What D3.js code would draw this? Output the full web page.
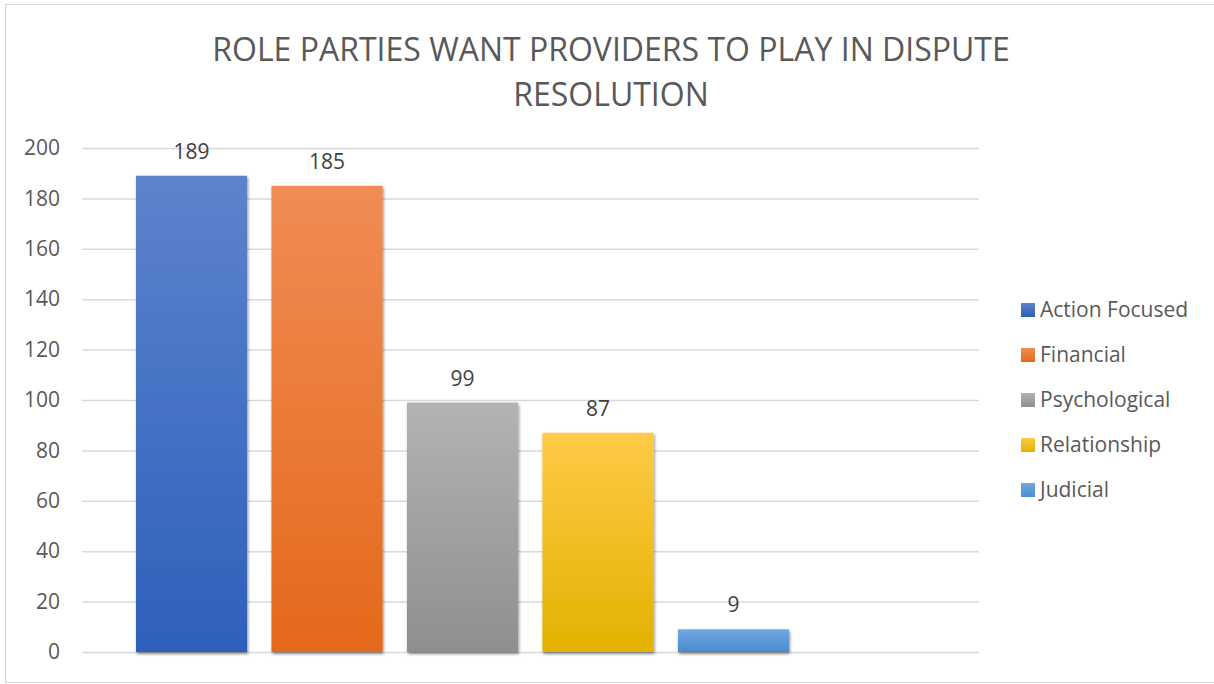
<!DOCTYPE html>
<html>
<head>
<meta charset="utf-8">
<script src="https://cdn.jsdelivr.net/npm/d3@7"></script>
<style>
  body { margin: 0; background: #fff; }
  text { font-family: "Open Sans", "Noto Sans", sans-serif; }
</style>
</head>
<body>
<div id="chart"></div>
<script>
// data
const categories = ['Action Focused', 'Financial', 'Psychological', 'Relationship', 'Judicial'];
const values = [189, 185, 99, 87, 9];
const yTicks = [0, 20, 40, 60, 80, 100, 120, 140, 160, 180, 200];
const titleLines = ['ROLE PARTIES WANT PROVIDERS TO PLAY IN DISPUTE', 'RESOLUTION'];
// top / bottom gradient stops for each series
const colorsTop = ['#5d83cc', '#f18c55', '#b3b3b3', '#ffca47', '#70a8e0'];
const colorsBottom = ['#2d60bb', '#e4691a', '#8f8f8f', '#e3b200', '#4a8cd0'];

const width = 1214, height = 684;
const margin = { top: 148, bottom: 32, left: 82, right: 235 };
const plotBottom = height - margin.bottom;

const svg = d3.select('#chart').append('svg')
  .attr('width', width)
  .attr('height', height);

const defs = svg.append('defs');
categories.forEach((c, i) => {
  const g = defs.append('linearGradient')
    .attr('id', 'grad' + i)
    .attr('x1', 0).attr('y1', 0).attr('x2', 0).attr('y2', 1);
  g.append('stop').attr('offset', '0%').attr('stop-color', colorsTop[i]);
  g.append('stop').attr('offset', '100%').attr('stop-color', colorsBottom[i]);
});
const shadow = defs.append('filter').attr('id', 'shadow')
  .attr('x', '-10%').attr('y', '-10%').attr('width', '130%').attr('height', '130%');
shadow.append('feDropShadow')
  .attr('dx', 1).attr('dy', 2).attr('stdDeviation', 1.5)
  .attr('flood-color', '#000').attr('flood-opacity', 0.45);

// chart border
svg.append('rect')
  .attr('x', 5.5).attr('y', 4.5)
  .attr('width', width + 10).attr('height', 678)
  .attr('fill', 'none').attr('stroke', '#d9d9d9').attr('stroke-width', 1.2);

// title
svg.append('text')
  .attr('x', 611).attr('y', 61)
  .attr('text-anchor', 'middle')
  .style('font-size', '32px')
  .style('fill', '#595959')
  .selectAll('tspan')
  .data(titleLines)
  .join('tspan')
  .attr('x', 611)
  .attr('dy', (d, i) => i === 0 ? 0 : 45)
  .text(d => d);

// scales
const yScale = d3.scaleLinear().domain([0, 200]).range([plotBottom, margin.top]);
const xScale = d3.scaleBand().domain(categories).range([136, 789])
  .paddingInner(0.18).paddingOuter(0);

// gridlines
svg.append('g')
  .attr('class', 'grid')
  .selectAll('line')
  .data(yTicks)
  .join('line')
  .attr('x1', margin.left)
  .attr('x2', width - margin.right)
  .attr('y1', d => yScale(d) + 0.5)
  .attr('y2', d => yScale(d) + 0.5)
  .attr('stroke', '#d9d9d9')
  .attr('stroke-width', 1.5);

// y axis
const yAxis = svg.append('g')
  .attr('class', 'axis axis-y')
  .attr('transform', `translate(${margin.left - 22}, 0)`)
  .call(d3.axisLeft(yScale).tickValues(yTicks).tickSize(0).tickPadding(0));
yAxis.select('.domain').remove();
yAxis.selectAll('text')
  .style('font-size', '21px')
  .style('fill', '#595959')
  .style('font-family', '"Open Sans", "Noto Sans", sans-serif');

// bars
svg.append('g')
  .attr('class', 'bars')
  .selectAll('rect')
  .data(values)
  .join('rect')
  .attr('x', (d, i) => xScale(categories[i]))
  .attr('y', d => yScale(d))
  .attr('width', xScale.bandwidth())
  .attr('height', d => plotBottom - yScale(d))
  .attr('fill', (d, i) => `url(#grad${i})`)
  .attr('filter', 'url(#shadow)');

// data labels
svg.append('g')
  .attr('class', 'labels')
  .selectAll('text')
  .data(values)
  .join('text')
  .attr('x', (d, i) => xScale(categories[i]) + xScale.bandwidth() / 2)
  .attr('y', d => yScale(d) - 17)
  .attr('text-anchor', 'middle')
  .style('font-size', '21px')
  .style('fill', '#404040')
  .text(d => d);

// legend
const legend = svg.append('g')
  .attr('class', 'legend')
  .attr('transform', 'translate(1021, 310)');
const item = legend.selectAll('g')
  .data(categories)
  .join('g')
  .attr('transform', (d, i) => `translate(0, ${i * 45})`);
item.append('rect')
  .attr('x', 0).attr('y', -7)
  .attr('width', 14).attr('height', 14)
  .attr('fill', (d, i) => `url(#grad${i})`);
item.append('text')
  .attr('x', 19).attr('y', 0)
  .attr('dy', '0.35em')
  .style('font-size', '21px')
  .style('fill', '#595959')
  .text(d => d);
</script>
</body>
</html>
